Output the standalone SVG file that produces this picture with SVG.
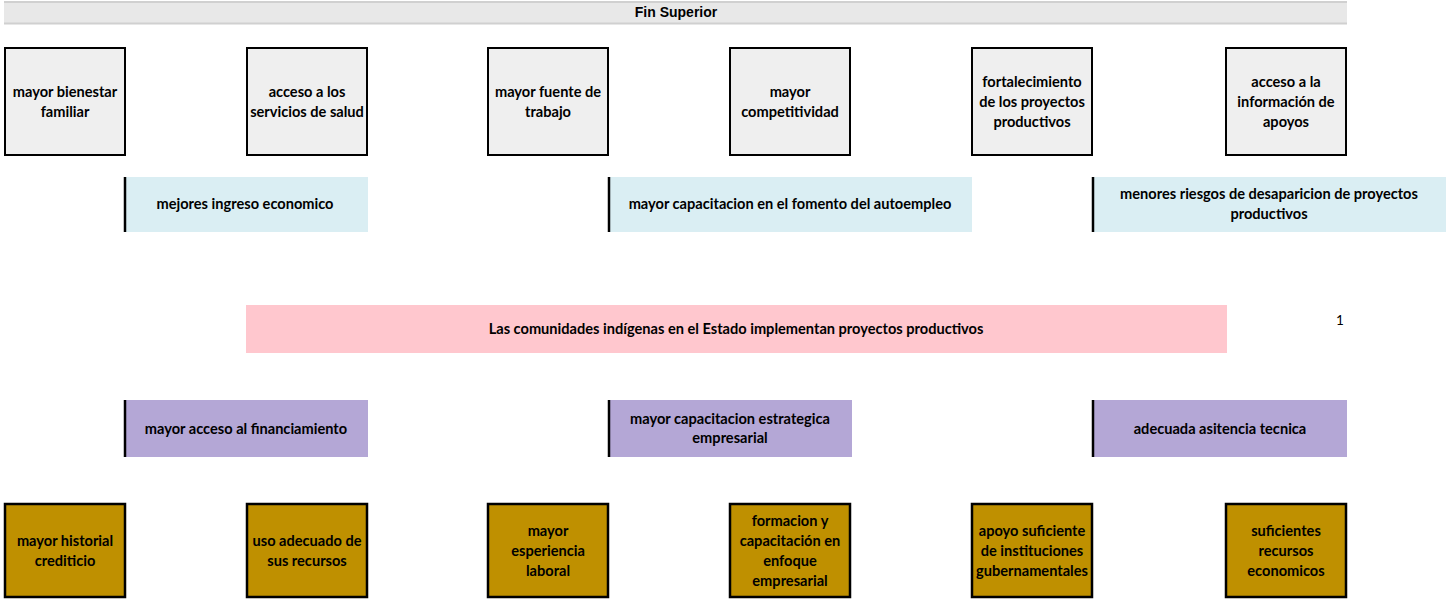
<svg xmlns="http://www.w3.org/2000/svg" width="1446" height="599" viewBox="0 0 1446 599">
<style>
text{font-family:Lato,"Liberation Sans",sans-serif;font-weight:bold;font-size:14.6px;fill:#000;text-anchor:middle}
.top{fill:#efefef;stroke:#000;stroke-width:2}
.bot{fill:#bf9000;stroke:#000;stroke-width:2.5}
.blue{fill:#daeef3}
.purple{fill:#b4a7d6}
.pink{fill:#ffc7ce}
.edge{stroke:#000;stroke-width:2.5}
</style>
<rect width="1446" height="599" fill="#fff"/>
<g id="fin-superior">
<rect x="4" y="2" width="1343" height="21" fill="#e8e8e8"/>
<line x1="4" y1="2" x2="1347" y2="2" stroke="#d0d0d0" stroke-width="2"/>
<line x1="4" y1="23.5" x2="1347" y2="23.5" stroke="#d0d0d0" stroke-width="2"/>
<text x="676" y="17" style="font-family:'Liberation Sans',Arial,sans-serif;font-size:14px">Fin Superior</text>
</g>
<g id="fin1"><rect class="top" x="5" y="48" width="120" height="107"/><text x="65" y="97">mayor bienestar</text><text x="65" y="117">familiar</text></g>
<g id="fin2"><rect class="top" x="247" y="48" width="120" height="107"/><text x="307" y="97">acceso a los</text><text x="307" y="117">servicios de salud</text></g>
<g id="fin3"><rect class="top" x="488" y="48" width="120" height="107"/><text x="548" y="97">mayor fuente de</text><text x="548" y="117">trabajo</text></g>
<g id="fin4"><rect class="top" x="730" y="48" width="120" height="107"/><text x="790" y="97">mayor</text><text x="790" y="117">competitividad</text></g>
<g id="fin5"><rect class="top" x="972" y="48" width="120" height="107"/><text x="1032" y="87">fortalecimiento</text><text x="1032" y="107">de los proyectos</text><text x="1032" y="127">productivos</text></g>
<g id="fin6"><rect class="top" x="1226" y="48" width="120" height="107"/><text x="1286" y="87">acceso a la</text><text x="1286" y="107">información de</text><text x="1286" y="127">apoyos</text></g>

<g id="efecto1"><rect class="blue" x="125" y="177" width="243" height="55"/><line class="edge" x1="125" y1="177" x2="125" y2="232"/><text x="245" y="209">mejores ingreso economico</text></g>
<g id="efecto2"><rect class="blue" x="609" y="177" width="363" height="55"/><line class="edge" x1="609" y1="177" x2="609" y2="232"/><text x="790" y="209">mayor capacitacion en el fomento del autoempleo</text></g>
<g id="efecto3"><rect class="blue" x="1093" y="177" width="353" height="55"/><line class="edge" x1="1093" y1="177" x2="1093" y2="232"/><text x="1269" y="199">menores riesgos de desaparicion de proyectos</text><text x="1269" y="219">productivos</text></g>

<g id="proposito"><rect class="pink" x="246" y="305" width="981" height="48"/><text x="736" y="334">Las comunidades indígenas en el Estado implementan proyectos productivos</text></g>
<text x="1340" y="325" style="font-weight:normal;font-size:13.5px">1</text>

<g id="componente1"><rect class="purple" x="125" y="400" width="243" height="57"/><line class="edge" x1="125" y1="400" x2="125" y2="457"/><text x="246" y="434">mayor acceso al financiamiento</text></g>
<g id="componente2"><rect class="purple" x="609" y="400" width="243" height="57"/><line class="edge" x1="609" y1="400" x2="609" y2="457"/><text x="730" y="424">mayor capacitacion estrategica</text><text x="730" y="443">empresarial</text></g>
<g id="componente3"><rect class="purple" x="1093" y="400" width="254" height="57"/><line class="edge" x1="1093" y1="400" x2="1093" y2="457"/><text x="1220" y="434">adecuada asitencia tecnica</text></g>

<g id="medio1"><rect class="bot" x="5" y="504" width="120" height="93"/><text x="65" y="546">mayor historial</text><text x="65" y="566">crediticio</text></g>
<g id="medio2"><rect class="bot" x="247" y="504" width="120" height="93"/><text x="307" y="546">uso adecuado de</text><text x="307" y="566">sus recursos</text></g>
<g id="medio3"><rect class="bot" x="488" y="504" width="120" height="93"/><text x="548" y="536">mayor</text><text x="548" y="556">esperiencia</text><text x="548" y="576">laboral</text></g>
<g id="medio4"><rect class="bot" x="730" y="504" width="120" height="93"/><text x="790" y="526">formacion y</text><text x="790" y="546">capacitación en</text><text x="790" y="566">enfoque</text><text x="790" y="586">empresarial</text></g>
<g id="medio5"><rect class="bot" x="972" y="504" width="120" height="93"/><text x="1032" y="536">apoyo suficiente</text><text x="1032" y="556">de instituciones</text><text x="1032" y="576">gubernamentales</text></g>
<g id="medio6"><rect class="bot" x="1226" y="504" width="120" height="93"/><text x="1286" y="536">suficientes</text><text x="1286" y="556">recursos</text><text x="1286" y="576">economicos</text></g>
<g id="connectors"></g>
</svg>
